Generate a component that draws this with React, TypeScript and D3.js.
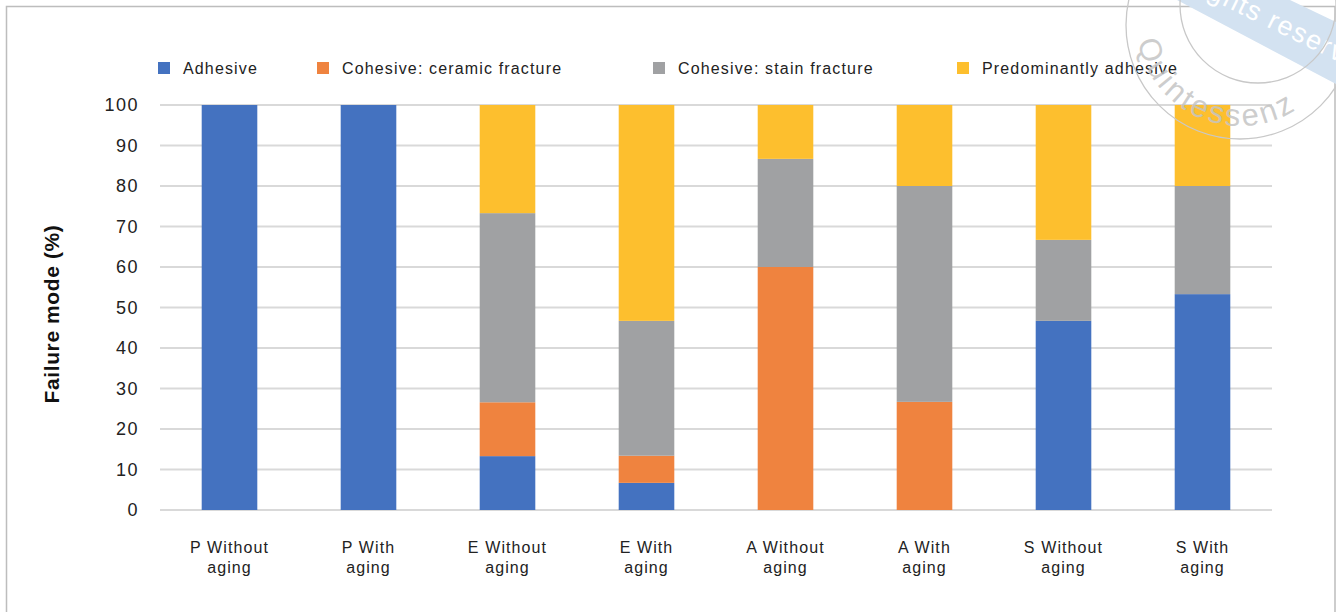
import React from "react";
import * as d3 from "d3";

const categories = [
  ["P Without", "aging"],
  ["P With", "aging"],
  ["E Without", "aging"],
  ["E With", "aging"],
  ["A Without", "aging"],
  ["A With", "aging"],
  ["S Without", "aging"],
  ["S With", "aging"],
];
const seriesNames = ["Adhesive", "Cohesive: ceramic fracture", "Cohesive: stain fracture", "Predominantly adhesive"];
const adhesive = [100, 100, 13.3, 6.7, 0, 0, 46.7, 53.3];
const ceramic = [0, 0, 13.3, 6.7, 60, 26.7, 0, 0];
const stain = [0, 0, 46.7, 33.3, 26.7, 53.3, 20, 26.7];
const predominantly = [0, 0, 26.7, 53.3, 13.3, 20, 33.3, 20];
const yTicks = [0, 10, 20, 30, 40, 50, 60, 70, 80, 90, 100];
const colors = ["#4472c0", "#ef833f", "#a0a1a3", "#fdbf2e"];

const W = 1336, H = 612;
const left = 160, right = 1272, top = 105, bottom = 510;

export default function App() {
  const labels = categories.map((c) => c.join(" "));
  const x = d3.scaleBand().domain(labels).range([left, right]).paddingInner(0.6).paddingOuter(0.3);
  const y = d3.scaleLinear().domain([0, 100]).range([bottom, top]);
  const rows = labels.map((l, i) => ({ key: l, s0: adhesive[i], s1: ceramic[i], s2: stain[i], s3: predominantly[i] }));
  const stacked = d3.stack<any>().keys(["s0", "s1", "s2", "s3"])(rows);
  const font = "'Liberation Sans', Arial, sans-serif";
  const legendX = [158, 317, 653, 957];

  // watermark arc geometry
  const wcx = 1240, wcy = 22, wr = 104;
  const a0 = (178 * Math.PI) / 180, a1 = (15 * Math.PI) / 180;
  const arcPath = `M${wcx + wr * Math.cos(a0)},${wcy + wr * Math.sin(a0)} A${wr},${wr} 0 0,0 ${wcx + wr * Math.cos(a1)},${wcy + wr * Math.sin(a1)}`;

  return (
    <svg width={W} height={H} style={{ position: "absolute", left: 0, top: 0, background: "#fff" }} fontFamily={font}>
      <rect x={0} y={0} width={W} height={H} fill="#fff" />
      {/* frame */}
      <path d={`M6.5,${H} V6.5 H1335 V${H}`} fill="none" stroke="#bdbdbd" strokeWidth={1.5} />

      {/* watermark band (behind chart) */}
      <polygon points="1177,0 1290,0 1336,22 1336,84" fill="#d3e2f1" />
      <text transform="translate(1236,12) rotate(26)" fontSize={27} fill="#fff" letterSpacing={1.5}>
        <tspan x={0} textAnchor="end">All righ</tspan>
        <tspan x={0} textAnchor="start">ts reserved</tspan>
      </text>

      {/* gridlines */}
      {yTicks.map((t) => (
        <line key={t} x1={left} x2={right} y1={y(t)} y2={y(t)} stroke="#d9d9d9" strokeWidth={2} />
      ))}
      {/* y tick labels */}
      {yTicks.map((t) => (
        <text key={"t" + t} x={139} y={y(t)} dy="0.36em" textAnchor="end" fontSize={18} letterSpacing={1.5} fill="#222">
          {t}
        </text>
      ))}

      {/* bars */}
      {stacked.map((s, si) =>
        s.map((d, i) =>
          d[1] - d[0] > 0 ? (
            <rect
              key={si + "-" + i}
              x={x(labels[i])!}
              width={x.bandwidth()}
              y={y(d[1])}
              height={y(d[0]) - y(d[1])}
              fill={colors[si]}
            />
          ) : null
        )
      )}

      {/* category labels */}
      {categories.map((c, i) => (
        <text key={"c" + i} x={x(labels[i])! + x.bandwidth() / 2} textAnchor="middle" fontSize={16} letterSpacing={1.1} fill="#222">
          <tspan x={x(labels[i])! + x.bandwidth() / 2} y={553}>{c[0]}</tspan>
          <tspan x={x(labels[i])! + x.bandwidth() / 2} y={573}>{c[1]}</tspan>
        </text>
      ))}

      {/* y axis title */}
      <text
        transform={`translate(59,${314}) rotate(-90)`}
        textAnchor="middle"
        fontSize={21}
        fontWeight="bold"
        letterSpacing={0.6}
        fill="#111"
      >
        Failure mode (%)
      </text>

      {/* legend */}
      {seriesNames.map((n, i) => (
        <g key={n}>
          <rect x={legendX[i]} y={62} width={12} height={12} fill={colors[i]} />
          <text x={legendX[i] + 25} y={74} fontSize={16} letterSpacing={1.15} fill="#222">
            {n}
          </text>
        </g>
      ))}

      {/* watermark stamp */}
      <g>
        <defs>
          <path id="wmArc" d={arcPath} />
        </defs>
        <circle cx={1240} cy={25} r={114} fill="none" stroke="#c8c8c8" strokeWidth={1.3} />
        <circle cx={1258} cy={5} r={78} fill="none" stroke="#c8c8c8" strokeWidth={1.3} />
        <text fontSize={31} fill="#c4c4c4" fillOpacity={0.85} letterSpacing={3}>
          <textPath href="#wmArc" startOffset={16}>Quintessenz</textPath>
        </text>
      </g>
    </svg>
  );
}
